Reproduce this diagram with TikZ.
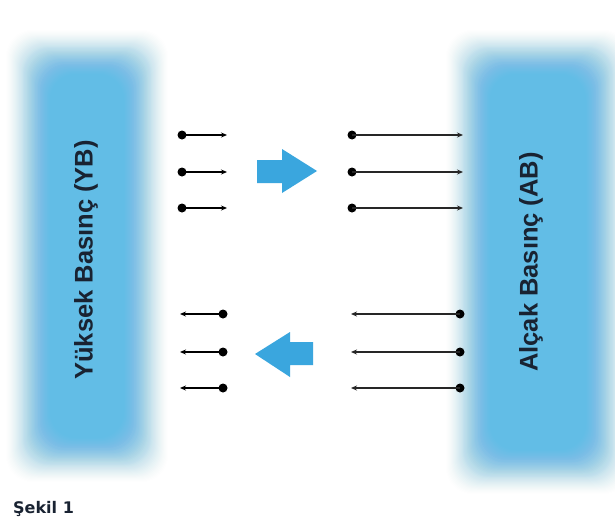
\documentclass[tikz,border=0pt]{standalone}
\usepackage{fontspec}
\setmainfont{Liberation Sans}
\newfontfamily\capfont{DejaVu Sans}
\usetikzlibrary{arrows.meta}
\definecolor{blobc}{RGB}{98,189,230}
\definecolor{arrc}{RGB}{58,166,222}
\definecolor{txtc}{RGB}{25,35,50}
\begin{document}
\begin{tikzpicture}[x=1pt,y=-1pt,
  dotn/.style={circle,fill=black,inner sep=0pt,minimum size=9pt},
  shortarr/.style={line width=2.2pt,-{Stealth[length=6pt,width=5pt]}},
  longarr/.style={line width=1.6pt,black!85,-{Stealth[length=6pt,width=5pt]}},
  sidelabel/.style={rotate=90,text=txtc,font=\bfseries\fontsize{25.5}{26}\selectfont},
  bigarrow/.style={fill=arrc}]
\useasboundingbox (0,0) rectangle (615,522);
\fill[white] (0,0) rectangle (615,522);
% blurred blobs: smooth fade built from stacked translucent layers
\foreach \i in {-24,...,32}{
  \pgfmathsetmacro{\op}{min(0.09,0.09*(34-\i)/44)}
  \fill[blobc,opacity=\op,rounded corners=26pt] (38-\i,62-\i) rectangle (136+\i,450+\i);
  \fill[blobc,opacity=\op,rounded corners=26pt] (478-\i,62-\i) rectangle (598+\i,462+\i);
}
% labels
\node[sidelabel] (yb) at (86,260) {Yüksek Basınç (YB)};
\node[sidelabel] (ab) at (531,262) {Alçak Basınç (AB)};
% top arrows
\foreach \y/\n in {135/1,172/2,208/3}{
  \node[dotn] (sa\n) at (182,\y) {};
  \coordinate (sat\n) at (227,\y);
  \draw[shortarr] (sa\n.center) -- (sat\n);
  \node[dotn] (la\n) at (352,\y) {};
  \coordinate (lat\n) at (463,\y);
  \draw[longarr] (la\n.center) -- (lat\n);
}
% bottom arrows
\foreach \y/\n in {314/1,352/2,388/3}{
  \node[dotn] (sb\n) at (223,\y) {};
  \coordinate (sbt\n) at (180,\y);
  \draw[shortarr] (sb\n.center) -- (sbt\n);
  \node[dotn] (lb\n) at (460,\y) {};
  \coordinate (lbt\n) at (351,\y);
  \draw[longarr] (lb\n.center) -- (lbt\n);
}
% big blue arrows
\fill[bigarrow] (257,160) -- (282,160) -- (282,149) -- (317,171) -- (282,193) -- (282,183) -- (257,183) -- cycle;
\fill[bigarrow] (313,342) -- (290,342) -- (290,332) -- (255,354) -- (290,377) -- (290,365) -- (313,365) -- cycle;
% caption
\node[anchor=base west,inner sep=0pt,text=txtc,font=\capfont\bfseries\fontsize{16}{16}\selectfont] (cap) at (13,513) {Şekil 1};
\end{tikzpicture}
\end{document}
